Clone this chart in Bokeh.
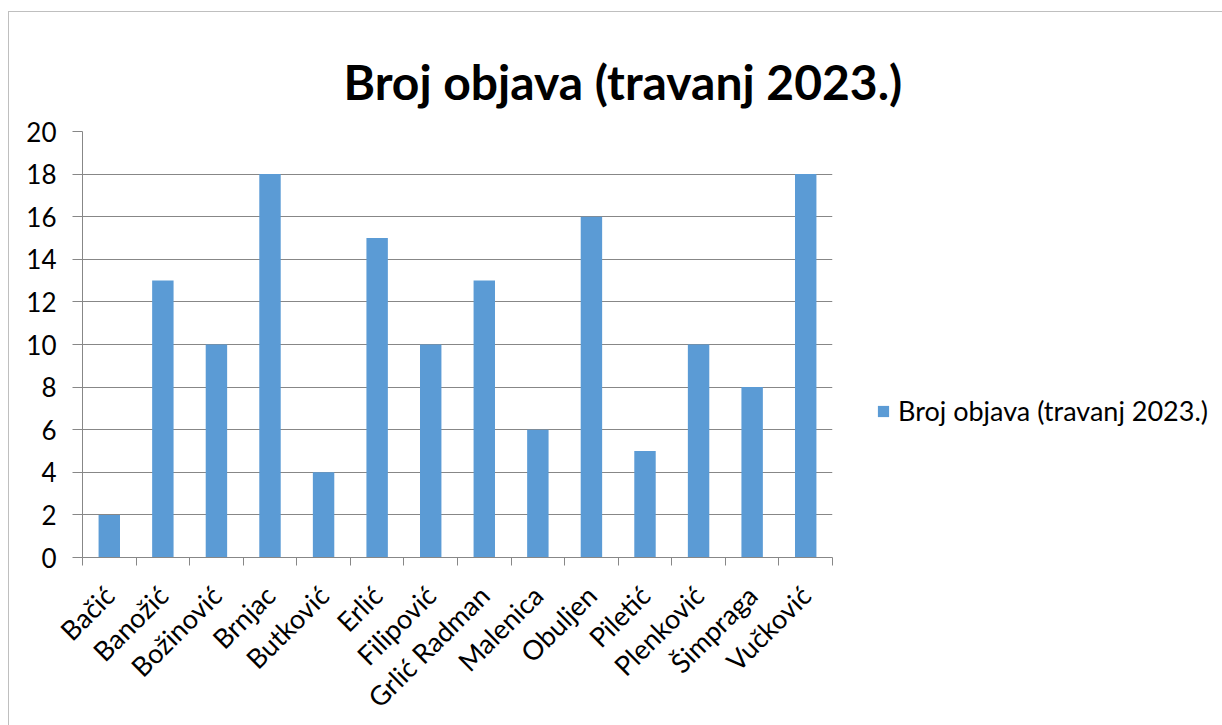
import math
from bokeh.plotting import figure
from bokeh.models import ColumnDataSource, FixedTicker, Legend, LegendItem
from bokeh.embed import file_html
from bokeh.resources import INLINE

names = ["Bačić", "Banožić", "Božinović", "Brnjac", "Butković", "Erlić", "Filipović",
         "Grlić Radman", "Malenica", "Obuljen", "Piletić", "Plenković", "Šimpraga", "Vučković"]
counts = [2, 13, 10, 18, 4, 15, 10, 13, 6, 16, 5, 10, 8, 18]
series_name = "Broj objava (travanj 2023.)"
y_ticks = list(range(0, 21, 2))

FONT = "Lato"
GRAY = "#878787"
BLUE = "#5B9BD5"

src = ColumnDataSource(dict(x=[i + 0.5 for i in range(len(names))], top=counts, name=names))

p = figure(output_backend="svg", toolbar_location=None,
           x_range=(0, len(names)), y_range=(0, 20),
           frame_width=750, frame_height=426,
           min_border_left=73, min_border_top=119, min_border_right=385, min_border_bottom=160)
p.title.text = series_name
p.title.text_font = FONT
p.title.text_font_size = "48px"
p.title.text_font_style = "bold"
p.title.align = "left"
p.title.offset = 261
p.title.standoff = 44
p.title.text_color = "#000000"

r = p.vbar(x="x", top="top", bottom=0, width=0.4, source=src, fill_color=BLUE, line_color=None)

p.outline_line_color = None
p.xgrid.grid_line_color = None
p.ygrid.grid_line_color = GRAY
p.ygrid.ticker = FixedTicker(ticks=y_ticks)

p.yaxis.ticker = FixedTicker(ticks=y_ticks)
p.yaxis.axis_line_color = GRAY
p.yaxis.major_tick_line_color = GRAY
p.yaxis.major_tick_out = 10
p.yaxis.major_tick_in = 0
p.yaxis.minor_tick_line_color = None
p.yaxis.major_label_text_font = FONT
p.yaxis.major_label_text_font_size = "26px"
p.yaxis.major_label_text_color = "#000000"
p.yaxis.major_label_standoff = 16

p.xaxis.ticker = FixedTicker(ticks=[i + 0.5 for i in range(len(names))],
                             minor_ticks=list(range(len(names) + 1)))
p.xaxis.major_label_overrides = {i + 0.5: n for i, n in enumerate(names)}
p.xaxis.axis_line_color = GRAY
p.xaxis.major_tick_line_color = None
p.xaxis.minor_tick_line_color = GRAY
p.xaxis.minor_tick_out = 8
p.xaxis.minor_tick_in = 0
p.xaxis.major_label_orientation = math.pi / 4
p.xaxis.major_label_text_font = FONT
p.xaxis.major_label_text_font_size = "27px"
p.xaxis.major_label_text_color = "#000000"
p.xaxis.major_label_standoff = 25

legend = Legend(items=[LegendItem(label=series_name, renderers=[r])],
                location=(44, 130), border_line_color=None, background_fill_alpha=0,
                glyph_width=14, glyph_height=14, label_standoff=8, padding=0, margin=0,
                label_text_font=FONT, label_text_font_size="27px", label_text_color="#000000")
p.add_layout(legend, "right")

p.styles = {"border-left": "1px solid #BFBFBF", "border-top": "1px solid #BFBFBF",
            "margin-left": "8px", "margin-top": "11px"}

open("out.html", "w").write(file_html(p, INLINE))
